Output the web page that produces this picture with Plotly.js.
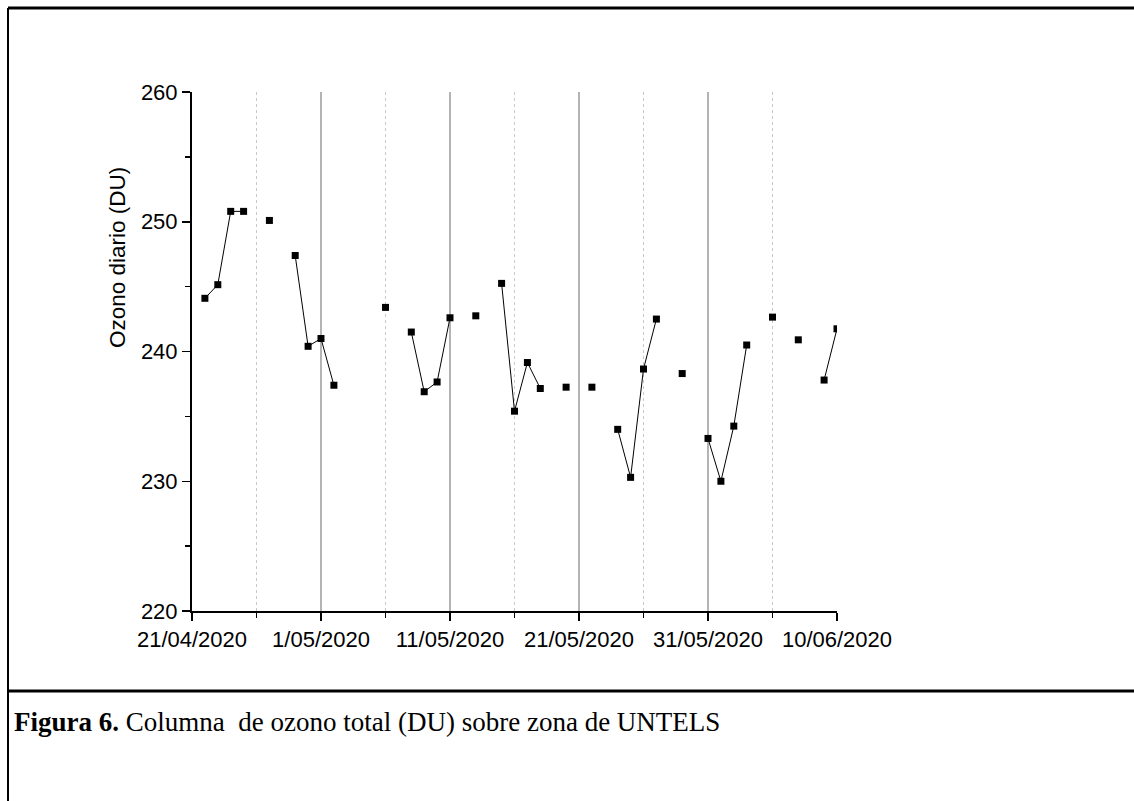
<!DOCTYPE html>
<html>
<head>
<meta charset="utf-8">
<script src="https://cdn.plot.ly/plotly-3.0.1.min.js"></script>
<style>
html,body{margin:0;padding:0;background:#fff;}
#chart{width:1134px;height:801px;}
</style>
</head>
<body>
<div id="chart"></div>
<script>
// Daily dates (null = no observation, breaks the line)
const dates = [
  "2020-04-22","2020-04-23","2020-04-24","2020-04-25","2020-04-26","2020-04-27","2020-04-28","2020-04-29","2020-04-30",
  "2020-05-01","2020-05-02","2020-05-03","2020-05-04","2020-05-05","2020-05-06","2020-05-07","2020-05-08","2020-05-09","2020-05-10",
  "2020-05-11","2020-05-12","2020-05-13","2020-05-14","2020-05-15","2020-05-16","2020-05-17","2020-05-18","2020-05-19","2020-05-20",
  "2020-05-21","2020-05-22","2020-05-23","2020-05-24","2020-05-25","2020-05-26","2020-05-27","2020-05-28","2020-05-29","2020-05-30",
  "2020-05-31","2020-06-01","2020-06-02","2020-06-03","2020-06-04","2020-06-05","2020-06-06","2020-06-07","2020-06-08","2020-06-09",
  "2020-06-10"
];
const ozone = [
  244.1, 245.15, 250.8, 250.8, null, 250.1, null, 247.4, 240.4,
  241.0, 237.4, null, null, null, 243.4, null, 241.5, 236.9, 237.65,
  242.6, null, 242.75, null, 245.25, 235.4, 239.15, 237.15, null, 237.25,
  null, 237.25, null, 234.0, 230.3, 238.65, 242.5, null, 238.3, null,
  233.3, 230.0, 234.25, 240.5, null, 242.65, null, 240.9, null, 237.8,
  241.75
];
const yTicks = [220, 230, 240, 250, 260];
const yTitle = "Ozono diario (DU)";
const captionBold = "Figura 6.";
const captionRest = " Columna&nbsp; de ozono total (DU) sobre zona de UNTELS";

const W = 1134, H = 801;
const L = 192, R = 837, T = 92, B = 611;
const px = x => (x - L) / (R - L);
const py = y => (B - y) / (B - T);
const SANS = "Liberation Sans, Arial, sans-serif";

const trace = {
  x: dates, y: ozone, type: "scatter", mode: "lines+markers",
  connectgaps: false,
  line: {color: "#000", width: 1},
  marker: {symbol: "square", size: 7, color: "#000"},
  hoverinfo: "x+y"
};

const layout = {
  width: W, height: H,
  margin: {l: L, r: W - R, t: T, b: H - B, pad: 0},
  paper_bgcolor: "#fff", plot_bgcolor: "#fff",
  showlegend: false,
  font: {family: SANS, color: "#000"},
  xaxis: {
    type: "date",
    range: ["2020-04-21", "2020-06-10"],
    tick0: "2020-04-21", dtick: 864000000,
    tickformat: "%-d/%m/%Y",
    ticks: "outside", ticklen: 8, tickwidth: 1.5, tickcolor: "#000",
    tickfont: {size: 22, family: SANS},
    showline: true, linecolor: "#000", linewidth: 2,
    showgrid: true, gridcolor: "#b4b4b4", gridwidth: 1.3,
    zeroline: false,
    minor: {dtick: 432000000, tick0: "2020-04-21", ticks: "outside", ticklen: 5, tickwidth: 1.5, tickcolor: "#000",
            showgrid: true, gridcolor: "#c8c8c8", griddash: "dot", gridwidth: 1}
  },
  yaxis: {
    range: [220, 260],
    tickvals: yTicks,
    ticks: "outside", ticklen: 8, tickwidth: 1.5, tickcolor: "#000",
    tickfont: {size: 22, family: SANS},
    showline: true, linecolor: "#000", linewidth: 2,
    showgrid: false, zeroline: false,
    minor: {tickvals: [225, 235, 245, 255], ticks: "outside", ticklen: 5, tickwidth: 1.5, tickcolor: "#000", showgrid: false}
  },
  shapes: [
    {type: "line", xref: "paper", yref: "paper", x0: px(8), x1: px(1140), y0: py(8), y1: py(8), line: {color: "#000", width: 3}},
    {type: "line", xref: "paper", yref: "paper", x0: px(8), x1: px(8), y0: py(8), y1: py(805), line: {color: "#000", width: 2}},
    {type: "line", xref: "paper", yref: "paper", x0: px(8), x1: px(1140), y0: py(691), y1: py(691), line: {color: "#000", width: 3}}
  ],
  annotations: [
    {xref: "paper", yref: "paper", x: px(117), y: py(258), xanchor: "center", yanchor: "middle", textangle: -90, showarrow: false,
     text: yTitle, font: {family: SANS, size: 22.5, color: "#000"}},
    {xref: "paper", yref: "paper", x: px(12), y: py(722), xanchor: "left", yanchor: "middle", showarrow: false,
     text: "<b>" + captionBold + "</b>" + captionRest,
     font: {family: "Liberation Serif, Times New Roman, serif", size: 27, color: "#000"}}
  ]
};

Plotly.newPlot("chart", [trace], layout, {displayModeBar: false, staticPlot: true});
</script>
</body>
</html>
